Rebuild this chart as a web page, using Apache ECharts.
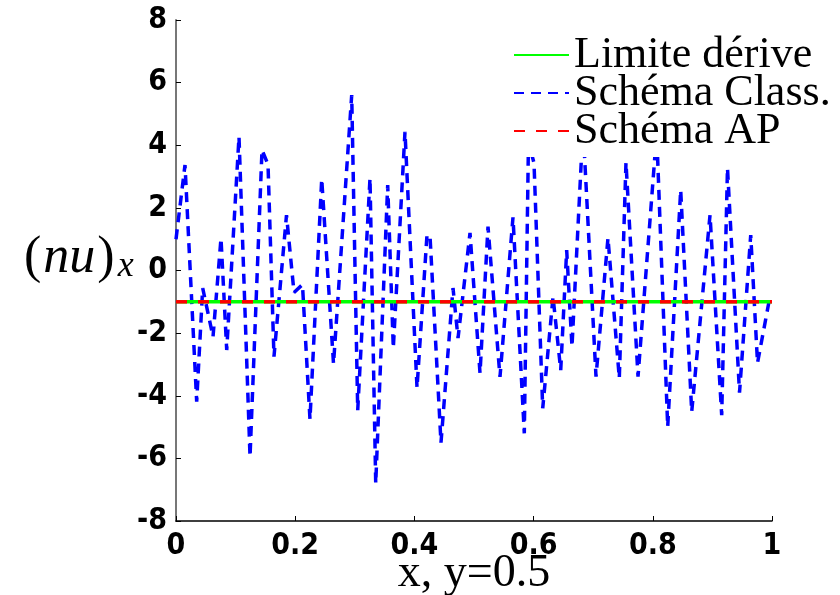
<!DOCTYPE html>
<html>
<head>
<meta charset="utf-8">
<script src="https://cdn.jsdelivr.net/npm/echarts@6/dist/echarts.min.js"></script>
<style>html,body{margin:0;padding:0;background:#fff;}#c{width:840px;height:595px;}</style>
</head>
<body>
<div id="c"></div>
<script>
// Schéma Class. : x positions and (nu)_x values
const classX = [0, 0.0151, 0.0347, 0.0448, 0.0621, 0.0755, 0.0851, 0.1057, 0.1242, 0.1443, 0.1544, 0.1644, 0.1854, 0.1980, 0.2122, 0.2248, 0.2445, 0.2643, 0.2948, 0.3049, 0.3255, 0.3351, 0.3552, 0.3646, 0.3842, 0.4044, 0.4211, 0.4262, 0.4446, 0.4648, 0.4732, 0.4933, 0.5101, 0.5235, 0.5436, 0.5654, 0.5844, 0.5914, 0.6007, 0.6153, 0.6326, 0.6455, 0.6555, 0.6644, 0.6829, 0.7047, 0.7248, 0.7438, 0.7550, 0.7752, 0.8065, 0.8250, 0.8468, 0.8653, 0.8960, 0.9156, 0.9253, 0.9455, 0.9643, 0.9757, 0.9955, 1.0];
const classY = [1.0, 3.37, -4.19, -0.56, -2.12, 1.03, -2.54, 4.27, -5.95, 3.85, 3.38, -2.75, 1.77, -0.7, -0.45, -4.75, 2.92, -2.98, 5.6, -4.46, 2.95, -6.8, 2.73, -2.48, 4.43, -3.75, 1.13, 1.1, -5.5, -0.56, -2.16, 1.2, -3.28, 1.4, -3.4, 1.7, -5.2, 4.1, 3.43, -4.4, -0.84, -3.18, 0.65, -2.43, 4.6, -3.39, 1.04, -3.44, 3.45, -3.39, 4.4, -4.99, 2.57, -4.51, 1.77, -4.62, 3.27, -3.9, 1.13, -2.95, -0.94, -0.9];
// Limite dérive and Schéma AP
const limX = [0, 1];
const limY = [-1, -1];
const apX = [0, 1];
const apY = [-1, -1];
const xTicks = [0, 0.2, 0.4, 0.6, 0.8, 1];
const yTicks = [-8, -6, -4, -2, 0, 2, 4, 6, 8];
const names = ['Limite dérive', 'Schéma Class.', 'Schéma AP'];

const zip = (a, b) => a.map((v, i) => [v, b[i]]);
const tickFont = "'Liberation Sans Narrow', 'DejaVu Sans Condensed', 'Liberation Sans', sans-serif";
const serif = "'Liberation Serif', 'DejaVu Serif', serif";

const chart = echarts.init(document.getElementById('c'));
chart.setOption({
  animation: false,
  backgroundColor: '#fff',
  grid: { left: 176, right: 68, top: 20, bottom: 74, containLabel: false, outerBoundsMode: 'none' },
  xAxis: {
    type: 'value', min: xTicks[0], max: xTicks[xTicks.length - 1], interval: 0.2,
    name: 'x, y=0.5', nameLocation: 'middle', nameGap: 30, nameMoveOverlap: false,
    nameTextStyle: { fontFamily: serif, fontSize: 46, color: '#000' },
    axisLine: { onZero: false, lineStyle: { color: '#000', width: 1.5 } },
    axisTick: { inside: true, length: 5, lineStyle: { color: '#000', width: 1 } },
    axisLabel: { fontFamily: tickFont, fontWeight: 'bold', fontSize: 30, color: '#000', margin: 10,
      formatter: v => String(+v.toFixed(1)) },
    splitLine: { show: false }
  },
  yAxis: {
    type: 'value', min: yTicks[0], max: yTicks[yTicks.length - 1], interval: 2,
    axisLine: { show: true, onZero: false, lineStyle: { color: '#777', width: 2 } },
    axisTick: { inside: true, length: 5, lineStyle: { color: '#000', width: 1 } },
    axisLabel: { fontFamily: tickFont, fontWeight: 'bold', fontSize: 30, color: '#000', margin: 9 },
    splitLine: { show: false }
  },
  legend: {
    orient: 'vertical', left: 505, top: 33, padding: [0, 8, 4, 8], itemGap: -6,
    itemWidth: 55, itemHeight: 14, backgroundColor: '#fff', z: 10,
    itemStyle: { opacity: 0 },
    data: names,
    textStyle: { fontFamily: serif, fontSize: 44, color: '#000' }
  },
  graphic: [{
    type: 'text', left: 24, top: 232, z: 10,
    style: {
      text: '{p|(}{i|nu}{p|)}{s|x}',
      rich: {
        p: { fontFamily: serif, fontSize: 52, fill: '#000' },
        i: { fontFamily: serif, fontStyle: 'italic', fontSize: 52, fill: '#000', padding: [0, 2, 0, 2] },
        s: { fontFamily: serif, fontStyle: 'italic', fontSize: 36, fill: '#000', padding: [18, 0, 0, 3] }
      }
    }
  }],
  series: [
    { name: names[1], type: 'line', data: zip(classX, classY), showSymbol: false, symbol: 'none', z: 2,
      lineStyle: { color: '#0000ff', width: 3.5, type: [10, 7] }, itemStyle: { color: '#0000ff' } },
    { name: names[0], type: 'line', data: zip(limX, limY), showSymbol: false, symbol: 'none', z: 3,
      lineStyle: { color: '#00ff00', width: 3.5, type: 'solid' }, itemStyle: { color: '#00ff00' } },
    { name: names[2], type: 'line', data: zip(apX, apY), showSymbol: false, symbol: 'none', z: 4,
      lineStyle: { color: '#ff0000', width: 3.5, type: [11, 11] }, itemStyle: { color: '#ff0000' } }
  ]
});
</script>
</body>
</html>
